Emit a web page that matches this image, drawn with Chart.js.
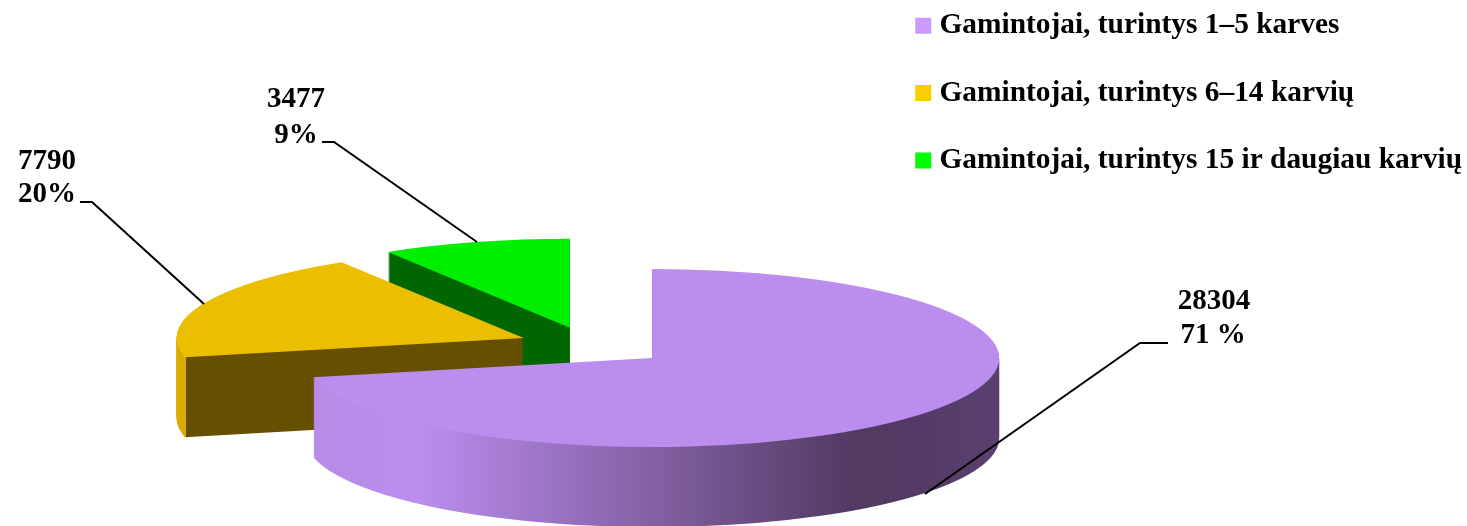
<!DOCTYPE html>
<html>
<head>
<meta charset="utf-8">
<title>Gamintojai</title>
<script src="https://cdn.jsdelivr.net/npm/chart.js@4/dist/chart.umd.min.js"></script>
<style>
  html, body { margin: 0; padding: 0; background: #fff; }
  canvas { display: block; }
</style>
</head>
<body>
<canvas id="chart" width="1467" height="526"></canvas>
<script>
// duomenys
const categories = [
  "Gamintojai, turintys 1–5 karves",
  "Gamintojai, turintys 6–14 karvių",
  "Gamintojai, turintys 15 ir daugiau karvių",
];
const producers = [28304, 7790, 3477];
const percentLabels = ["71 %", "20%", "9%"];

// spalvos
const topColors = ["#BB8DEE", "#ECBE00", "#00EE00"];
const legendColors = ["#CC99FF", "#FFCC00", "#00FF00"];
const sideStops = [
  [[315, "#B78BE6"], [420, "#BB8DEE"], [850, "#533A63"], [900, "#533A63"], [999, "#5A4070"]],
  [[176, "#DBAB00"], [186, "#DBAB00"], [186, "#665000"], [530, "#665000"]],
  [[380, "#006600"], [575, "#006600"]],
];

// 3D vaizdas: elipse ir gylis
const pieX = 589, pieY = 345, radiusX = 347, radiusY = 89, depth = 80;
const explode = [81, 71, 70];
const drawOrder = [2, 1, 0];

// etiketes ir linijos
const valueLabelPos = [[1214, 302], [47, 162], [296, 100]];
const percentLabelPos = [[1213, 336], [47, 195], [296, 136]];
const leaders = [
  [[1168, 343], [1140, 343], [925, 494]],
  [[80, 202], [92, 202], [204, 304]],
  [[322, 142], [334, 142], [477, 242]],
];

function drawSlice(ctx, arc, i, shift, color) {
  const k = radiusX / arc.outerRadius;
  const ky = radiusY / arc.outerRadius;
  const mid = (arc.startAngle + arc.endAngle) / 2;
  const ex = Math.cos(mid) * explode[i] / k;
  const ey = Math.sin(mid) * explode[i] / k;
  const saved = arc.options;

  ctx.save();
  ctx.translate(pieX, pieY + shift);
  ctx.scale(k, ky);
  ctx.translate(ex - arc.x, ey - arc.y);
  arc.options = Object.assign({}, saved, { backgroundColor: color, borderWidth: 0 });
  arc.draw(ctx);
  arc.options = saved;
  ctx.restore();
}

function sideGradient(ctx, arc, i) {
  // gradientas skaiciuojamas transformuotose koordinatese
  const k = radiusX / arc.outerRadius;
  const mid = (arc.startAngle + arc.endAngle) / 2;
  const ex = Math.cos(mid) * explode[i] / k;
  const toUser = (px) => arc.x - ex + (px - pieX) / k;
  const stops = sideStops[i];
  const first = stops[0][0];
  const last = stops[stops.length - 1][0];
  const g = ctx.createLinearGradient(toUser(first), 0, toUser(last), 0);
  stops.forEach((s) => g.addColorStop((s[0] - first) / (last - first), s[1]));
  return g;
}

const pie3d = {
  id: "pie3d",
  beforeDatasetsDraw(chart) {
    const ctx = chart.ctx;
    const arcs = chart.getDatasetMeta(0).data;
    drawOrder.forEach((i) => {
      const side = sideGradient(ctx, arcs[i], i);
      for (let d = depth; d > 0; d--) drawSlice(ctx, arcs[i], i, d, side);
      drawSlice(ctx, arcs[i], i, 0, topColors[i]);
    });
    return false;
  },
  afterDraw(chart) {
    const ctx = chart.ctx;
    ctx.save();
    ctx.strokeStyle = "#000";
    ctx.lineWidth = 2;
    leaders.forEach((pts) => {
      ctx.beginPath();
      pts.forEach((p, j) => (j ? ctx.lineTo(p[0], p[1]) : ctx.moveTo(p[0], p[1])));
      ctx.stroke();
    });
    ctx.fillStyle = "#000";
    ctx.font = 'bold 29px "Liberation Serif"';
    ctx.textAlign = "center";
    ctx.textBaseline = "middle";
    producers.forEach((v, i) => {
      ctx.fillText(String(v), valueLabelPos[i][0], valueLabelPos[i][1]);
      ctx.fillText(percentLabels[i], percentLabelPos[i][0], percentLabelPos[i][1]);
    });
    ctx.restore();
  },
};

new Chart(document.getElementById("chart"), {
  type: "pie",
  data: {
    labels: categories,
    datasets: [
      {
        data: producers,
        backgroundColor: topColors,
        borderWidth: 0,
        clip: false,
      },
    ],
  },
  options: {
    responsive: false,
    animation: false,
    layout: { padding: { top: -27, right: -5 } },
    plugins: {
      tooltip: { enabled: false },
      legend: {
        position: "right",
        align: "start",
        labels: {
          color: "#000",
          font: { family: '"Liberation Serif"', size: 29.4, weight: "bold" },
          usePointStyle: true,
          pointStyle: "rect",
          boxWidth: 3,
          boxHeight: 16,
          padding: 38,
          generateLabels(chart) {
            return Chart.overrides.pie.plugins.legend.labels
              .generateLabels(chart)
              .map((item, i) => Object.assign(item, { fillStyle: legendColors[i], lineWidth: 0 }));
          },
        },
      },
    },
  },
  plugins: [pie3d],
});
</script>
</body>
</html>
